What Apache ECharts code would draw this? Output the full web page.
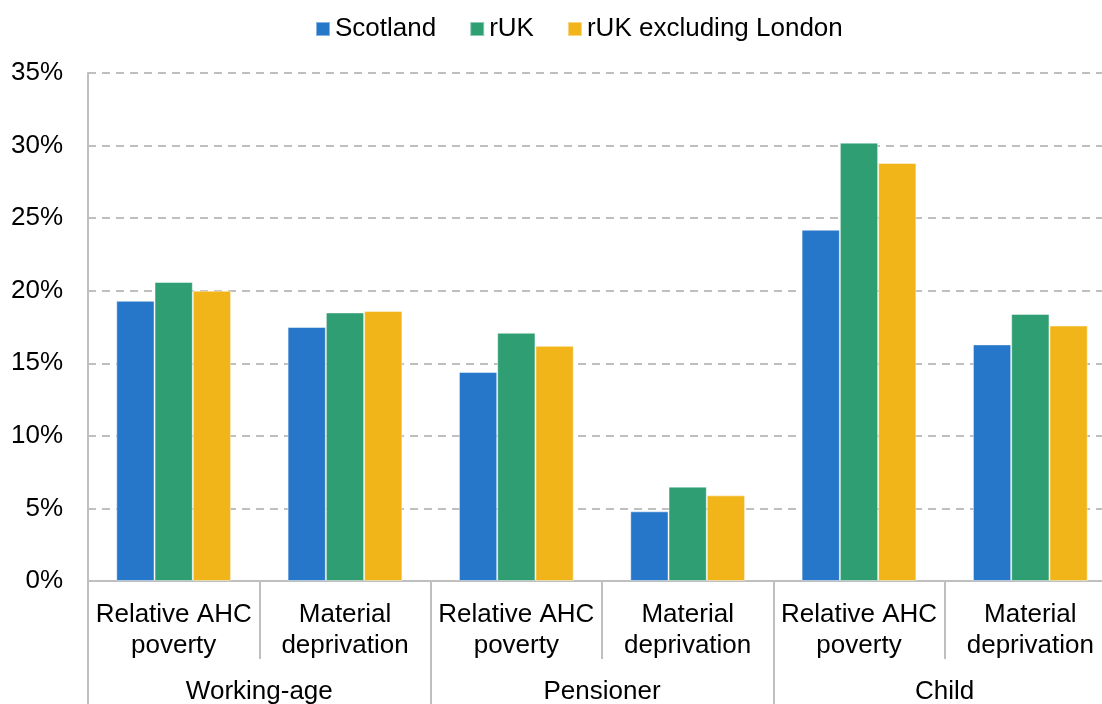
<!DOCTYPE html>
<html>
<head>
<meta charset="utf-8">
<script src="https://cdn.jsdelivr.net/npm/echarts@6/dist/echarts.min.js"></script>
<style>
html,body{margin:0;padding:0;background:#fff;}
#chart{width:1102px;height:704px;}
</style>
</head>
<body>
<div id="chart"></div>
<script>
const subCategories = ['Relative AHC\npoverty','Material\ndeprivation','Relative AHC\npoverty','Material\ndeprivation','Relative AHC\npoverty','Material\ndeprivation'];
const groups = ['Working-age','Pensioner','Child'];
const seriesNames = ['Scotland','rUK','rUK excluding London'];
const scotland = [19.3, 17.5, 14.4, 4.8, 24.2, 16.3];
const rUK = [20.6, 18.5, 17.1, 6.5, 30.2, 18.4];
const rUKexLondon = [20.0, 18.6, 16.2, 5.9, 28.8, 17.6];
const yTicks = [0, 5, 10, 15, 20, 25, 30, 35];

const colors = ['#2677C9', '#2F9E72', '#F1B51A'];
const font = 'Liberation Sans, Arial, sans-serif';
const gray = '#BFBFBF';

const chart = echarts.init(document.getElementById('chart'), null, {renderer:'canvas'});
const values = [scotland, rUK, rUKexLondon];
chart.setOption({
  animation: false,
  color: colors,
  legend: {
    left: 310, top: 11,
    itemWidth: 14, itemHeight: 14, itemGap: 33,
    icon: 'rect',
    textStyle: {fontFamily: font, fontSize: 26, color: '#000', lineHeight: 26},
    data: seriesNames
  },
  grid: {left: 88, right: -14, top: 73, bottom: 123, outerBoundsMode: 'none', containLabel: false},
  xAxis: [{
    type: 'category',
    data: subCategories,
    axisLine: {show: true, lineStyle: {color: gray, width: 2}},
    axisTick: {show: true, length: 78, lineStyle: {color: gray, width: 2}},
    axisLabel: {fontFamily: font, fontSize: 26, color: '#000', lineHeight: 31, margin: 18, interval: 0}
  }, {
    type: 'category',
    data: groups,
    position: 'bottom',
    gridIndex: 0,
    axisLine: {show: false},
    axisTick: {show: true, length: 123, lineStyle: {color: gray, width: 2}},
    axisLabel: {fontFamily: font, fontSize: 26, color: '#000', lineHeight: 26, margin: 98, interval: 0}
  }],
  yAxis: {
    type: 'value',
    min: yTicks[0], max: yTicks[yTicks.length-1], interval: 5,
    axisLine: {show: true, lineStyle: {color: gray, width: 2}},
    axisTick: {show: false},
    axisLabel: {fontFamily: font, fontSize: 26, color: '#000', margin: 25, formatter: v => v + '%'},
    splitLine: {show: true, lineStyle: {color: gray, width: 2, type: [8, 6]}}
  },
  series: seriesNames.map((name, i) => ({
    name: name,
    type: 'bar',
    xAxisIndex: 0,
    data: values[i],
    barGap: '0%',
    barCategoryGap: '33%',
    itemStyle: {color: colors[i], borderColor: 'rgba(255,255,255,0.45)', borderWidth: 1}
  }))
});
</script>
</body>
</html>
